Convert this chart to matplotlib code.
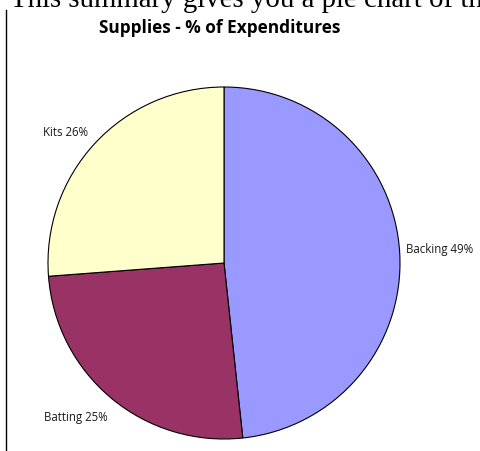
import matplotlib
matplotlib.use("Agg")
import matplotlib.pyplot as plt
import numpy as np

categories = ["Backing", "Batting", "Kits"]
label_pcts = [49, 25, 26]              # percentages printed in the labels
slice_values = [48.3, 25.5, 26.2]      # slice sizes as drawn in the picture
colors = ["#9999FF", "#993366", "#FFFFCC"]
title = "Supplies - % of Expenditures"
header = "This summary gives you a pie chart of the"

# label placement (angle in degrees, distance in radii)
label_angles = [3.5, -133.9, 140.5]
label_dists = [1.227, 1.215, 1.17]

W, H = 480, 451
fig = plt.figure(figsize=(W / 100, H / 100), dpi=100)

cx, cy, r = 224, 263, 176
lim = 1.02
half = r * lim
ax = fig.add_axes([(cx - half) / W, (H - cy - half) / H, 2 * half / W, 2 * half / H])

labels = [f"{c} {v}%" for c, v in zip(categories, label_pcts)]
wedges, texts = ax.pie(slice_values, colors=colors, startangle=90, counterclock=False,
                       labels=labels, labeldistance=1.2,
                       wedgeprops=dict(edgecolor="black", linewidth=0.8),
                       textprops=dict(fontsize=8.3, family="Open Sans", color="#1a1a1a"))
for t, a, d in zip(texts, label_angles, label_dists):
    t.set_ha("center")
    t.set_va("center")
    t.set_position((d * np.cos(np.radians(a)), d * np.sin(np.radians(a))))
ax.set_xlim(-lim, lim)
ax.set_ylim(-lim, lim)
ax.set_aspect("equal")
ax.axis("off")

fig.text(220 / W, 1 - 28 / H, title, ha="center", va="center", fontsize=12.4,
         fontweight="bold", family="Open Sans")
fig.text(10 / W, 1 - 7 / H, header, ha="left", va="baseline", fontsize=20.8,
         family="Liberation Serif")
fig.add_artist(plt.Line2D([5.5 / W, 5.5 / W], [0, 1 - 10 / H], color="black", linewidth=1.0))

fig.savefig("out.png", dpi=100)
